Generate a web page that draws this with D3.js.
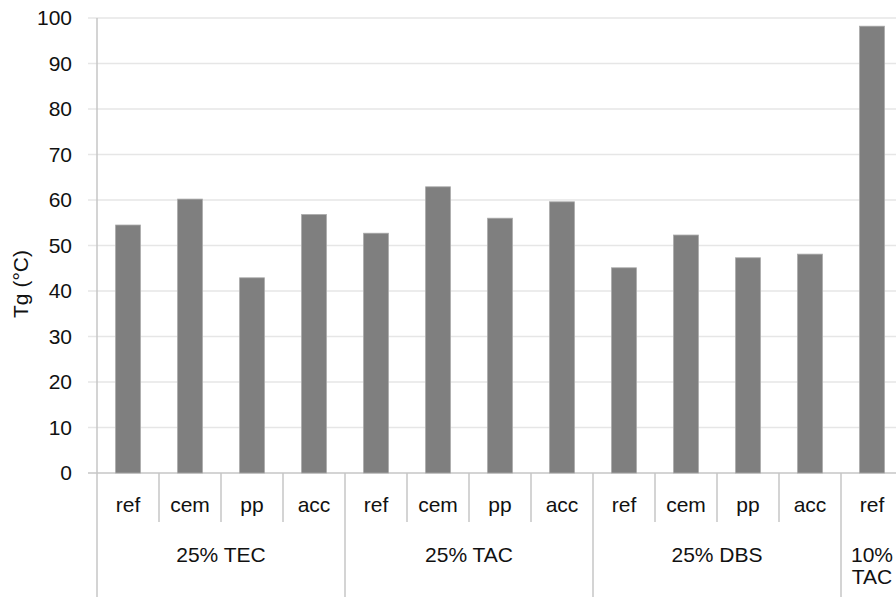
<!DOCTYPE html>
<html>
<head>
<meta charset="utf-8">
<script src="https://cdn.jsdelivr.net/npm/d3@7"></script>
<style>
  html, body { margin: 0; padding: 0; background: #fff; }
  svg { display: block; font-family: "Liberation Sans", Arial, Helvetica, sans-serif; }
</style>
</head>
<body>
<svg id="chart" width="896" height="597"></svg>
<script>
// Glass transition temperature per plasticiser formulation and treatment
const groups = ["25% TEC", "25% TAC", "25% DBS", "10% TAC"];
const groupLabelLines = [["25% TEC"], ["25% TAC"], ["25% DBS"], ["10%", "TAC"]];
const groupSizes = [4, 4, 4, 1];
const treatments = ["ref", "cem", "pp", "acc", "ref", "cem", "pp", "acc", "ref", "cem", "pp", "acc", "ref"];
const tgValues = [54.5, 60.2, 42.9, 56.8, 52.7, 62.9, 56.0, 59.6, 45.1, 52.3, 47.3, 48.1, 98.2];
const yTicks = [0, 10, 20, 30, 40, 50, 60, 70, 80, 90, 100];
const yTitle = "Tg (°C)";

const fontSize = 21;
const svg = d3.select("#chart");

const plotLeft = 97, plotRight = 903, plotTop = 18, plotBottom = 473;
const x = d3.scaleBand()
  .domain(d3.range(tgValues.length))
  .range([plotLeft, plotRight])
  .paddingInner(0.6)
  .paddingOuter(0.3);
const step = x.step();
const y = d3.scaleLinear().domain([0, 100]).range([plotBottom, plotTop]);

// horizontal gridlines with short tick stubs
const gy = svg.append("g");
gy.selectAll("line.grid").data(yTicks).join("line")
  .attr("class", "grid")
  .attr("x1", plotLeft - 9).attr("x2", 896)
  .attr("y1", d => y(d)).attr("y2", d => y(d))
  .attr("stroke", d => d === 0 ? "#c6c6c6" : "#e6e6e6")
  .attr("stroke-width", 1.5);

const yAxis = d3.axisLeft(y).tickValues(yTicks).tickSize(0).tickPadding(0);
const ga = svg.append("g").attr("transform", `translate(${plotLeft - 25},0)`).call(yAxis);
ga.select(".domain").remove();
ga.selectAll("text")
  .attr("font-size", fontSize)
  .attr("fill", "#111")
  .attr("font-family", "Liberation Sans, Arial, sans-serif");

// bars
svg.append("g").selectAll("rect").data(tgValues).join("rect")
  .attr("x", (d, i) => x(i))
  .attr("width", x.bandwidth())
  .attr("y", d => y(d))
  .attr("height", d => y(0) - y(d))
  .attr("fill", "#7f7f7f")
  .attr("stroke", "#a8a8a8")
  .attr("stroke-width", 0.8);

// vertical axis line
svg.append("line")
  .attr("x1", plotLeft).attr("x2", plotLeft)
  .attr("y1", plotTop).attr("y2", 597)
  .attr("stroke", "#c6c6c6").attr("stroke-width", 1.5);

// category separators: short between treatments, full height between groups
const groupStarts = [];
let acc = 0;
groupSizes.forEach(n => { groupStarts.push(acc); acc += n; });
const sep = svg.append("g");
d3.range(1, tgValues.length).forEach(i => {
  const xx = plotLeft + i * step;
  const isGroup = groupStarts.includes(i);
  sep.append("line")
    .attr("x1", xx).attr("x2", xx)
    .attr("y1", plotBottom).attr("y2", isGroup ? 597 : 522)
    .attr("stroke", "#c6c6c6").attr("stroke-width", 1.5);
});

// treatment labels
svg.append("g").selectAll("text").data(treatments).join("text")
  .attr("x", (d, i) => x(i) + x.bandwidth() / 2)
  .attr("y", 512)
  .attr("text-anchor", "middle")
  .attr("font-size", fontSize)
  .attr("fill", "#111")
  .text(d => d);

// group labels
const gl = svg.append("g");
groups.forEach((g, gi) => {
  const s = groupStarts[gi], n = groupSizes[gi];
  const cx = plotLeft + (s + n / 2) * step;
  const lines = groupLabelLines[gi];
  const t = gl.append("text")
    .attr("text-anchor", "middle")
    .attr("font-size", fontSize)
    .attr("fill", "#111");
  lines.forEach((ln, li) => {
    t.append("tspan")
      .attr("x", cx)
      .attr("y", 562 + li * 22)
      .text(ln);
  });
});

// y axis title
svg.append("text")
  .attr("transform", "translate(28,284) rotate(-90)")
  .attr("text-anchor", "middle")
  .attr("font-size", fontSize)
  .attr("fill", "#111")
  .text(yTitle);
</script>
</body>
</html>
